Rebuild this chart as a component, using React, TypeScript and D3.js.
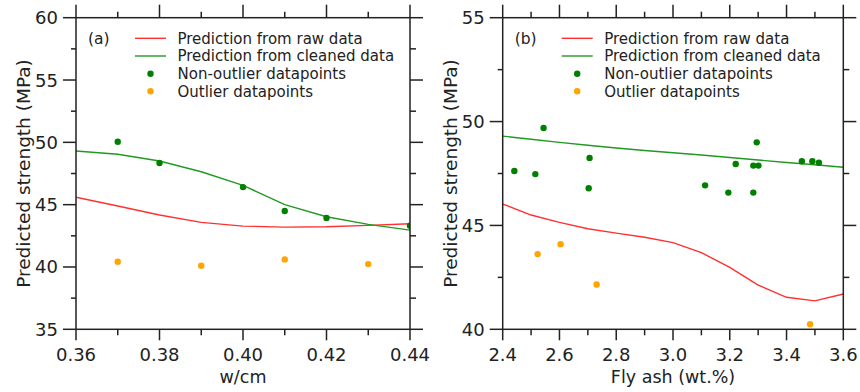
import React from "react";
import * as d3 from "d3";

// ---------- Data ----------
// Panel (a): w/cm
const wcmGrid = [0.36, 0.37, 0.38, 0.39, 0.40, 0.41, 0.42, 0.43, 0.44];
const rawPredA = [45.59, 44.89, 44.17, 43.58, 43.28, 43.2, 43.23, 43.34, 43.47];
const cleanPredA = [49.3, 49.04, 48.5, 47.64, 46.55, 45.0, 44.03, 43.42, 42.96];
const inlierXA = [0.37, 0.38, 0.40, 0.41, 0.42, 0.44];
const inlierYA = [50.05, 48.34, 46.41, 44.49, 43.93, 43.31];
const outlierXA = [0.37, 0.39, 0.41, 0.43];
const outlierYA = [40.42, 40.1, 40.61, 40.23];

// Panel (b): fly ash
const flyGrid = [2.4, 2.5, 2.6, 2.7, 2.8, 2.9, 3.0, 3.1, 3.2, 3.3, 3.4, 3.5, 3.6];
const rawPredB = [46.03, 45.5, 45.15, 44.84, 44.63, 44.43, 44.17, 43.69, 42.98, 42.13, 41.54, 41.37, 41.7];
const cleanPredB = [49.3, 49.15, 49.0, 48.86, 48.73, 48.61, 48.5, 48.39, 48.27, 48.15, 48.03, 47.92, 47.8];
const inlierXB = [2.441, 2.515, 2.544, 2.706, 2.703, 3.113, 3.195, 3.221, 3.283, 3.301, 3.295, 3.283, 3.454, 3.491, 3.514];
const inlierYB = [47.62, 47.47, 49.69, 48.25, 46.79, 46.93, 46.58, 47.96, 47.88, 47.88, 49.0, 46.58, 48.09, 48.09, 48.02];
const outlierXB = [2.523, 2.604, 2.731, 3.483];
const outlierYB = [43.62, 44.1, 42.16, 40.24];

// Ticks
const xMajorA = [0.36, 0.38, 0.40, 0.42, 0.44];
const xMinorA = [0.37, 0.39, 0.41, 0.43];
const yMajorA = [35, 40, 45, 50, 55, 60];
const yMinorA = [37.5, 42.5, 47.5, 52.5, 57.5];
const xMajorB = [2.4, 2.6, 2.8, 3.0, 3.2, 3.4, 3.6];
const xMinorB = [2.5, 2.7, 2.9, 3.1, 3.3, 3.5];
const yMajorB = [40, 45, 50, 55];
const yMinorB = [42.5, 47.5, 52.5];

const legendLabels = [
  "Prediction from raw data",
  "Prediction from cleaned data",
  "Non-outlier datapoints",
  "Outlier datapoints",
];

const RED = "#ff3030";
const GREEN_LINE = "#229922";
const GREEN = "#008000";
const ORANGE = "#ffa500";
const INK = "#222";
const FONT = "'DejaVu Sans', sans-serif";

type PanelProps = {
  id: string;
  tag: string;
  left: number;
  right: number;
  xDomain: [number, number];
  yDomain: [number, number];
  xMajor: number[];
  xMinor: number[];
  yMajor: number[];
  yMinor: number[];
  xFmt: (v: number) => string;
  xLabel: string;
  grid: number[];
  raw: number[];
  clean: number[];
  inX: number[];
  inY: number[];
  outX: number[];
  outY: number[];
};

const TOP = 17.7;
const BOTTOM = 329.3;
const MAJ = 13;
const MIN = 6;

function Panel(p: PanelProps) {
  const x = d3.scaleLinear().domain(p.xDomain).range([p.left, p.right]);
  const y = d3.scaleLinear().domain(p.yDomain).range([BOTTOM, TOP]);
  const line = d3
    .line<number>()
    .x((_, i) => x(p.grid[i]))
    .y((d) => y(d));
  const clipId = "clip-" + p.id;
  const legX = p.left + 59;
  const rows = [38.3, 56, 73.7, 91.3];
  return (
    <g>
      <defs>
        <clipPath id={clipId}>
          <rect x={p.left} y={TOP} width={p.right - p.left} height={BOTTOM - TOP} />
        </clipPath>
      </defs>
      <g clipPath={`url(#${clipId})`}>
        <path d={line(p.raw) || ""} fill="none" stroke={RED} strokeWidth={1.4} />
        <path d={line(p.clean) || ""} fill="none" stroke={GREEN_LINE} strokeWidth={1.4} />
        {p.inX.map((v, i) => (
          <circle key={"i" + i} cx={x(v)} cy={y(p.inY[i])} r={3.2} fill={GREEN} />
        ))}
        {p.outX.map((v, i) => (
          <circle key={"o" + i} cx={x(v)} cy={y(p.outY[i])} r={3.2} fill={ORANGE} />
        ))}
      </g>
      {/* frame */}
      <rect
        x={p.left}
        y={TOP}
        width={p.right - p.left}
        height={BOTTOM - TOP}
        fill="none"
        stroke={INK}
        strokeWidth={1.5}
      />
      {/* x ticks */}
      {p.xMajor.map((v) => (
        <g key={"xm" + v}>
          <line x1={x(v)} x2={x(v)} y1={BOTTOM} y2={BOTTOM + MAJ - 2} stroke={INK} strokeWidth={1.5} />
          <line x1={x(v)} x2={x(v)} y1={TOP} y2={TOP - MAJ} stroke={INK} strokeWidth={1.5} />
          <text x={x(v)} y={360.5} textAnchor="middle" fontSize={18} fill={INK} fontFamily={FONT}>
            {p.xFmt(v)}
          </text>
        </g>
      ))}
      {p.xMinor.map((v) => (
        <g key={"xn" + v}>
          <line x1={x(v)} x2={x(v)} y1={BOTTOM} y2={BOTTOM + MIN} stroke={INK} strokeWidth={1.5} />
          <line x1={x(v)} x2={x(v)} y1={TOP} y2={TOP - MIN} stroke={INK} strokeWidth={1.5} />
        </g>
      ))}
      {/* y ticks */}
      {p.yMajor.map((v) => (
        <g key={"ym" + v}>
          <line x1={p.left} x2={p.left - MAJ} y1={y(v)} y2={y(v)} stroke={INK} strokeWidth={1.5} />
          <line x1={p.right} x2={p.right + MAJ} y1={y(v)} y2={y(v)} stroke={INK} strokeWidth={1.5} />
          <text
            x={p.left - 18}
            y={y(v)}
            dy="0.36em"
            textAnchor="end"
            fontSize={18}
            fill={INK}
            fontFamily={FONT}
          >
            {v}
          </text>
        </g>
      ))}
      {p.yMinor.map((v) => (
        <g key={"yn" + v}>
          <line x1={p.left} x2={p.left - 5} y1={y(v)} y2={y(v)} stroke={INK} strokeWidth={1.5} />
          <line x1={p.right} x2={p.right + MIN} y1={y(v)} y2={y(v)} stroke={INK} strokeWidth={1.5} />
        </g>
      ))}
      {/* axis labels */}
      <text
        x={(p.left + p.right) / 2}
        y={383}
        textAnchor="middle"
        fontSize={17.5}
        fill={INK}
        fontFamily={FONT}
      >
        {p.xLabel}
      </text>
      <text
        transform={`translate(${p.left - 46},${(TOP + BOTTOM) / 2}) rotate(-90)`}
        textAnchor="middle"
        fontSize={18.5}
        fill={INK}
        fontFamily={FONT}
      >
        Predicted strength (MPa)
      </text>
      {/* legend */}
      <text x={p.left + 12} y={rows[0]} dy="0.36em" fontSize={15.5} fill={INK} fontFamily={FONT}>
        {p.tag}
      </text>
      <line x1={legX} x2={legX + 31} y1={rows[0]} y2={rows[0]} stroke={RED} strokeWidth={1.4} />
      <line x1={legX} x2={legX + 31} y1={rows[1]} y2={rows[1]} stroke={GREEN_LINE} strokeWidth={1.4} />
      <circle cx={legX + 15.5} cy={rows[2]} r={3.2} fill={GREEN} />
      <circle cx={legX + 15.5} cy={rows[3]} r={3.2} fill={ORANGE} />
      {legendLabels.map((t, i) => (
        <text
          key={t}
          x={legX + 42.5}
          y={rows[i]}
          dy="0.36em"
          fontSize={15}
          fill={INK}
          fontFamily={FONT}
        >
          {t}
        </text>
      ))}
    </g>
  );
}

export default function App() {
  return (
    <svg
      width={860}
      height={392}
      style={{ position: "absolute", left: 0, top: 0, background: "#fff" }}
    >
      <rect x={0} y={0} width={860} height={392} fill="#fff" />
      <Panel
        id="a"
        tag="(a)"
        left={76}
        right={410}
        xDomain={[0.36, 0.44]}
        yDomain={[35, 60]}
        xMajor={xMajorA}
        xMinor={xMinorA}
        yMajor={yMajorA}
        yMinor={yMinorA}
        xFmt={(v) => v.toFixed(2)}
        xLabel="w/cm"
        grid={wcmGrid}
        raw={rawPredA}
        clean={cleanPredA}
        inX={inlierXA}
        inY={inlierYA}
        outX={outlierXA}
        outY={outlierYA}
      />
      <Panel
        id="b"
        tag="(b)"
        left={502.7}
        right={843.3}
        xDomain={[2.4, 3.6]}
        yDomain={[40, 55]}
        xMajor={xMajorB}
        xMinor={xMinorB}
        yMajor={yMajorB}
        yMinor={yMinorB}
        xFmt={(v) => v.toFixed(1)}
        xLabel="Fly ash (wt.%)"
        grid={flyGrid}
        raw={rawPredB}
        clean={cleanPredB}
        inX={inlierXB}
        inY={inlierYB}
        outX={outlierXB}
        outY={outlierYB}
      />
    </svg>
  );
}
